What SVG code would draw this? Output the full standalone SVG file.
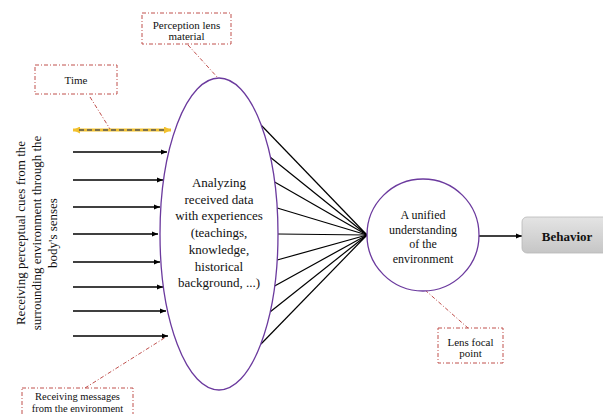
<svg xmlns="http://www.w3.org/2000/svg" width="603" height="414" viewBox="0 0 603 414" font-family="'Liberation Serif', 'Times New Roman', serif">
<defs>
<marker id="ah" viewBox="0 0 10 10" refX="10" refY="5" markerWidth="6" markerHeight="6" orient="auto" markerUnits="userSpaceOnUse"><path d="M0,1 L10,5 L0,9 z" fill="#000"/></marker>
<marker id="ay" viewBox="0 0 10 10" refX="10" refY="5" markerWidth="7" markerHeight="7" orient="auto-start-reverse" markerUnits="userSpaceOnUse"><path d="M0,0 L10,5 L0,10 z" fill="#f2c12e"/></marker>
<linearGradient id="gb" x1="0" y1="0" x2="0" y2="1"><stop offset="0" stop-color="#e4e4e4"/><stop offset="1" stop-color="#c6c6c6"/></linearGradient>
<style>
text{font-family:'Liberation Serif','Times New Roman',serif}
.t{fill:#111;text-anchor:middle}
.m{font-size:13px}
.c{font-size:12px}
.s{font-size:11px}
.xs{font-size:10.5px}
.note{fill:#fff;stroke:#c0504d;stroke-width:1;stroke-dasharray:4,2,1,2}
.lead{fill:none;stroke:#c0504d;stroke-width:1;stroke-dasharray:4,2,1,2}
.in{stroke:#000;stroke-width:1.3;marker-end:url(#ah)}
.fan{stroke:#000;stroke-width:1.2}
.lens{fill:#fff;stroke:#6b3a9e;stroke-width:1.3}
</style>
</defs>
<g id="connectors">
<g id="inputs">
<line class="in" x1="73" y1="152" x2="167" y2="152"/>
<line class="in" x1="73" y1="180" x2="163" y2="180"/>
<line class="in" x1="73" y1="207" x2="160" y2="207"/>
<line class="in" x1="73" y1="234" x2="158" y2="234"/>
<line class="in" x1="73" y1="262" x2="160" y2="262"/>
<line class="in" x1="73" y1="287" x2="163" y2="287"/>
<line class="in" x1="73" y1="311" x2="166" y2="311"/>
<line class="in" x1="73" y1="336" x2="168" y2="336"/>
</g>
<g id="time-arrow">
<line x1="73" y1="130" x2="171" y2="130" stroke="#f2c12e" stroke-width="3" marker-start="url(#ay)" marker-end="url(#ay)"/>
<line x1="79" y1="130" x2="165" y2="130" stroke="#555" stroke-width="1.6" stroke-dasharray="5,3"/>
</g>
<g id="fan">
<line class="fan" x1="261" y1="125" x2="367" y2="235"/>
<line class="fan" x1="270" y1="157" x2="367" y2="235"/>
<line class="fan" x1="274.6" y1="182" x2="367" y2="235"/>
<line class="fan" x1="277.2" y1="208" x2="367" y2="235"/>
<line class="fan" x1="278" y1="234" x2="367" y2="235"/>
<line class="fan" x1="277.2" y1="260" x2="367" y2="235"/>
<line class="fan" x1="274.6" y1="286" x2="367" y2="235"/>
<line class="fan" x1="270" y1="312" x2="367" y2="235"/>
<line class="fan" x1="261" y1="344" x2="367" y2="235"/>
</g>
<line class="in" x1="478" y1="236" x2="522" y2="236"/>
<g id="leaders">
<line class="lead" x1="90" y1="97" x2="110" y2="129"/>
<line class="lead" x1="188" y1="45" x2="218" y2="78"/>
<line class="lead" x1="85" y1="388" x2="166" y2="337"/>
<line class="lead" x1="425" y1="290" x2="468" y2="328"/>
</g>
</g>
<g id="senses-label">
<text class="t m" transform="translate(21,233) rotate(-90)" y="4">Receiving perceptual cues from the</text>
<text class="t m" transform="translate(37,233) rotate(-90)" y="4">surrounding environment through the</text>
<text class="t m" transform="translate(53,233) rotate(-90)" y="4">body's senses</text>
</g>
<g id="lens">
<ellipse class="lens" cx="219" cy="234" rx="59" ry="156"/>
<text class="t m" x="219" y="187">Analyzing</text>
<text class="t m" x="219" y="203.7">received data</text>
<text class="t m" x="219" y="220.4">with experiences</text>
<text class="t m" x="219" y="237.1">(teachings,</text>
<text class="t m" x="219" y="253.8">knowledge,</text>
<text class="t m" x="219" y="270.5">historical</text>
<text class="t m" x="219" y="287.2">background, ...)</text>
</g>
<g id="focal">
<circle class="lens" cx="423" cy="235" r="56"/>
<text class="t c" x="423" y="219">A unified</text>
<text class="t c" x="423" y="233.5">understanding</text>
<text class="t c" x="423" y="248">of the</text>
<text class="t c" x="423" y="262.5">environment</text>
</g>
<g id="behavior">
<rect x="522" y="217" width="92" height="36" rx="5" fill="url(#gb)" stroke="#b8b8b8" stroke-width="0.8"/>
<text class="t" x="567" y="241" font-size="13" font-weight="bold">Behavior</text>
</g>
<g id="note-material">
<rect class="note" x="142" y="13" width="89" height="31"/>
<text class="t s" x="186.5" y="29">Perception lens</text>
<text class="t s" x="186.5" y="40">material</text>
</g>
<g id="note-time">
<rect class="note" x="35" y="65" width="82" height="29"/>
<text class="t s" x="76" y="84">Time</text>
</g>
<g id="note-focal">
<rect class="note" x="438" y="328" width="65" height="35"/>
<text class="t s" x="470.5" y="346">Lens focal</text>
<text class="t s" x="470.5" y="357">point</text>
</g>
<g id="note-messages">
<rect class="note" x="22" y="388" width="111" height="37"/>
<text class="t xs" x="77.5" y="400">Receiving messages</text>
<text class="t xs" x="77.5" y="411.5">from the environment</text>
</g>
</svg>
